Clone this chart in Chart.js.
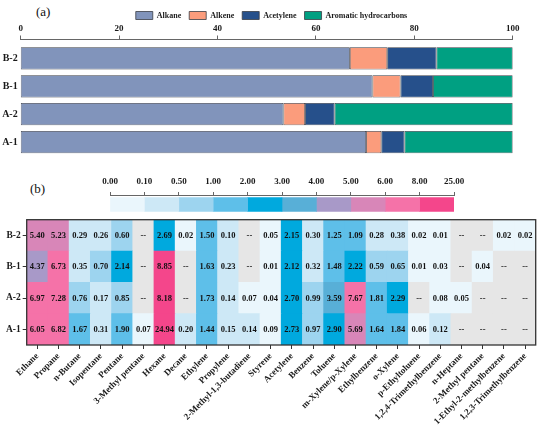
<!DOCTYPE html>
<html>
<head>
<meta charset="utf-8">
<script src="https://cdn.jsdelivr.net/npm/chart.js@4.4.1/dist/chart.umd.min.js"></script>
<style>
  html, body { margin:0; padding:0; background:#fff; }
  #wrap { position:relative; width:550px; height:429px; overflow:hidden; background:#fff; }
  .box { position:absolute; left:0; }
  .tag { position:absolute; font-family:'Liberation Serif','Times New Roman',serif; font-size:13px; line-height:13px; color:#111; }
</style>
</head>
<body>
<div id="wrap">
  <div class="tag" style="left:36px;top:5px;">(a)</div>
  <div class="tag" style="left:30px;top:182px;">(b)</div>
  <div class="box" style="top:0;width:543px;height:165px;"><canvas id="ca"></canvas></div>
  <div class="box" style="top:168px;width:550px;height:48px;"><canvas id="cl"></canvas></div>
  <div class="box" style="top:212px;width:550px;height:217px;"><canvas id="cb"></canvas></div>
</div>
<script>
// ---------- Panel (a) data ----------
const groups = ['B-2', 'B-1', 'A-2', 'A-1'];
const alkane = [66.9, 71.5, 53.4, 70.2];
const alkene = [7.6, 5.7, 4.4, 3.1];
const acetylene = [10.0, 6.6, 6.0, 4.7];
const aromatic = [15.5, 16.2, 36.2, 22.0];
const pctTicks = [0, 20, 40, 60, 80, 100];

// ---------- Panel (b) data ----------
const compounds = ['Ethane', 'Propane', 'n-Butane', 'Isopentane', 'Pentane', '3-Methyl pentane',
  'Hexane', 'Decane', 'Ethylene', 'Propylene', '2-Methyl-1,3-butadiene', 'Styrene', 'Acetylene',
  'Benzene', 'Toluene', 'm-Xylene/p-Xylene', 'Ethylbenzene', 'o-Xylene', 'p-Ethyltoluene',
  '1,2,4-Trimethylbenzene', 'n-Heptane', '2-Methyl pentane', '1-Ethyl-2-methylbenzene',
  '1,2,3-Trimethylbenzene'];
const rows = ['A-1', 'A-2', 'B-1', 'B-2']; // bottom to top
const rowA1 = [6.05, 6.82, 1.67, 0.31, 1.90, 0.07, 24.94, 0.20, 1.44, 0.15, 0.14, 0.09, 2.73, 0.97, 2.90, 5.69, 1.64, 1.84, 0.06, 0.12, null, null, null, null];
const rowA2 = [6.97, 7.28, 0.76, 0.17, 0.85, null, 8.18, null, 1.73, 0.14, 0.07, 0.04, 2.70, 0.99, 3.59, 7.67, 1.81, 2.29, null, 0.08, 0.05, null, null, null];
const rowB1 = [4.37, 6.73, 0.35, 0.70, 2.14, null, 8.85, null, 1.63, 0.23, null, 0.01, 2.12, 0.32, 1.48, 2.22, 0.59, 0.65, 0.01, 0.03, null, 0.04, null, null];
const rowB2 = [5.40, 5.23, 0.29, 0.26, 0.60, null, 2.69, 0.02, 1.50, 0.10, null, 0.05, 2.15, 0.30, 1.25, 1.09, 0.28, 0.38, 0.02, 0.01, null, null, 0.02, 0.02];
const rowValues = [rowA1, rowA2, rowB1, rowB2];

// colour scale
const binEdges = [0, 0.1, 0.5, 1, 2, 3, 4, 5, 6, 8, 25];
const binLabels = ['0.00', '0.10', '0.50', '1.00', '2.00', '3.00', '4.00', '5.00', '6.00', '8.00', '25.00'];
const binColors = ['#eaf6fc', '#cde8f6', '#9dd4ef', '#5ebfe9', '#00a9de', '#58afd7', '#a899c8', '#d886b8', '#f572a8', '#f4468b'];
const missingColor = '#e6e6e6';

const FAM = "'Liberation Serif','Times New Roman',serif";
Chart.defaults.font.family = FAM;
Chart.defaults.color = '#1a1a1a';

function colorFor(v) {
  if (v === null || v === undefined) return missingColor;
  for (let i = 0; i < binColors.length; i++) {
    if (v >= binEdges[i] && v < binEdges[i + 1]) return binColors[i];
  }
  return binColors[binColors.length - 1];
}

// ---------- Chart (a) ----------
const segBorder = '#3a3d45';
new Chart(document.getElementById('ca'), {
  type: 'bar',
  data: {
    labels: groups,
    datasets: [
      { label: 'Alkane', data: alkane, backgroundColor: '#8194bb' },
      { label: 'Alkene', data: alkene, backgroundColor: '#fb9c7c' },
      { label: 'Acetylene', data: acetylene, backgroundColor: '#26508b' },
      { label: 'Aromatic hydrocarbons', data: aromatic, backgroundColor: '#00a082' }
    ].map(d => Object.assign(d, { borderColor: segBorder, borderWidth: 0.8, borderSkipped: false }))
  },
  options: {
    indexAxis: 'y',
    responsive: true,
    maintainAspectRatio: false,
    animation: false,
    layout: { padding: { left: 0, right: 0, top: 3.5, bottom: 5.3 } },
    datasets: { bar: { barPercentage: 0.8, categoryPercentage: 1 } },
    plugins: {
      tooltip: { enabled: false },
      legend: {
        position: 'top',
        maxHeight: 19.2,
        labels: {
          boxWidth: 17, boxHeight: 8, padding: 8,
          font: { size: 8, weight: 'bold', family: FAM }, color: '#1a1a1a'
        }
      }
    },
    scales: {
      x: {
        position: 'top', stacked: true, min: 0, max: 100,
        ticks: { display: false }, grid: { display: false, drawTicks: false }, border: { display: false },
        afterFit: s => { s.height = 5; }
      },
      x2: {
        type: 'linear', position: 'top', min: 0, max: 100, weight: 1,
        afterBuildTicks: s => { s.ticks = pctTicks.map(v => ({ value: v })); },
        ticks: { font: { size: 9, weight: 'bold', family: FAM }, color: '#1a1a1a', padding: 1, maxRotation: 0 },
        grid: { drawOnChartArea: false, tickLength: 4, color: '#666' },
        border: { display: true, color: '#666', width: 1 }
      },
      y: {
        stacked: true,
        ticks: { font: { size: 10, weight: 'bold', family: FAM }, color: '#1a1a1a', padding: 3 },
        grid: { display: false, drawTicks: false }, border: { display: false },
        afterFit: s => { s.width = 20.7; }
      },
      yr: {
        type: 'category', position: 'right', labels: groups,
        ticks: { display: false }, grid: { display: false, drawTicks: false }, border: { display: false },
        afterFit: s => { s.width = 30.3; }
      }
    }
  }
});

// ---------- Colour scale legend ----------
new Chart(document.getElementById('cl'), {
  type: 'bar',
  data: {
    labels: ['scale'],
    datasets: binColors.map((c, i) => ({ label: binLabels[i], data: [1], backgroundColor: c, borderWidth: 0 }))
  },
  options: {
    indexAxis: 'y',
    responsive: true,
    maintainAspectRatio: false,
    animation: false,
    layout: { padding: { left: 110, right: 96, top: 0, bottom: 2 } },
    datasets: { bar: { barThickness: 14 } },
    plugins: { legend: { display: false }, tooltip: { enabled: false } },
    scales: {
      x: {
        position: 'top', stacked: true, min: 0, max: binColors.length,
        afterBuildTicks: s => { s.ticks = binLabels.map((l, i) => ({ value: i })); },
        ticks: {
          callback: (v, i) => binLabels[i],
          font: { size: 9, weight: 'bold', family: FAM }, color: '#1a1a1a', padding: 5, maxRotation: 0, autoSkip: false
        },
        grid: { drawOnChartArea: false, tickLength: 3, color: '#666' },
        border: { display: true, color: '#666', width: 1 },
        afterFit: s => { s.height = 27; }
      },
      y: { stacked: true, display: false }
    }
  }
});

// ---------- Heatmap (b) ----------
const cellText = {
  id: 'cellText',
  afterDatasetsDraw(chart) {
    const ctx = chart.ctx;
    ctx.save();
    ctx.font = "bold 8.5px " + FAM;
    ctx.fillStyle = '#111';
    ctx.textAlign = 'center';
    ctx.textBaseline = 'middle';
    chart.data.datasets.forEach((ds, di) => {
      const meta = chart.getDatasetMeta(di);
      meta.data.forEach((el, j) => {
        const v = ds.values[j];
        const txt = (v === null || v === undefined) ? '--' : v.toFixed(2);
        ctx.fillText(txt, el.x, (el.y + el.base) / 2 + 0.5);
      });
    });
    ctx.restore();
  }
};
const frame = {
  id: 'frame',
  afterDraw(chart) {
    const a = chart.chartArea, ctx = chart.ctx;
    ctx.save();
    ctx.strokeStyle = '#333';
    ctx.lineWidth = 1.3;
    ctx.strokeRect(a.left, a.top, a.right - a.left, a.bottom - a.top);
    ctx.restore();
  }
};

new Chart(document.getElementById('cb'), {
  type: 'bar',
  data: {
    labels: compounds,
    datasets: rows.map((r, i) => ({
      label: r,
      values: rowValues[i],
      data: rowValues[i].map(() => 1),
      backgroundColor: rowValues[i].map(colorFor),
      borderWidth: 0
    }))
  },
  options: {
    responsive: true,
    maintainAspectRatio: false,
    animation: false,
    layout: { padding: { left: 0, right: 14.3, top: 3, bottom: 0 } },
    datasets: { bar: { barPercentage: 1, categoryPercentage: 1 } },
    plugins: { legend: { display: false }, tooltip: { enabled: false } },
    scales: {
      x: {
        stacked: true,
        ticks: {
          font: { size: 9, weight: 'bold', family: FAM }, color: '#1a1a1a',
          minRotation: 45, maxRotation: 45, autoSkip: false, padding: 2
        },
        grid: { drawOnChartArea: false, offset: false, tickLength: 4, color: '#333' },
        border: { display: false },
        afterFit: s => { s.height = 84; }
      },
      y: {
        stacked: true, min: 0, max: rows.length,
        afterBuildTicks: s => { s.ticks = rows.map((r, i) => ({ value: i + 0.5 })); },
        ticks: {
          callback: (v, i) => rows[i],
          font: { size: 9.5, weight: 'bold', family: FAM }, color: '#1a1a1a', padding: 2
        },
        grid: { drawOnChartArea: false, tickLength: 4, color: '#333' },
        border: { display: false },
        afterFit: s => { s.width = 26.7; }
      }
    }
  },
  plugins: [cellText, frame]
});
</script>
</body>
</html>
